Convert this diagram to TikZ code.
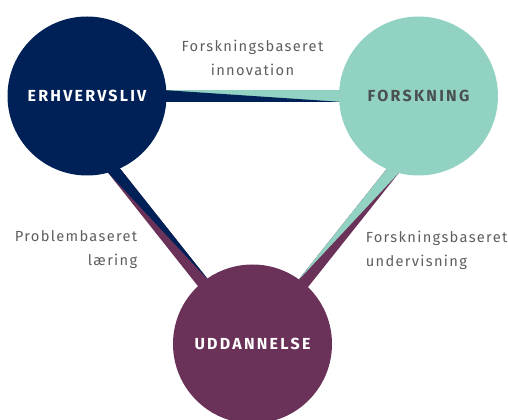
\documentclass[tikz,border=0pt]{standalone}
\usepackage{fontspec}
\usetikzlibrary{calc,backgrounds}
\newfontfamily\fedfont[LetterSpace=14]{Fira Sans}
\newfontfamily\tekstfont[LetterSpace=9]{Fira Sans}
\definecolor{navy}{HTML}{002157}
\definecolor{mint}{HTML}{91D2C3}
\definecolor{lilla}{HTML}{6B3259}
\definecolor{moerkgraa}{HTML}{4A4F4F}
\definecolor{graa}{HTML}{5F5F5F}
\tikzset{
	kreds/.style={circle,inner sep=0pt,minimum size=119.25pt,font=\fedfont\bfseries\fontsize{12}{14}\selectfont},
	etiket/.style={inner sep=0pt,text=graa,font=\tekstfont\fontsize{11}{18}\selectfont}
}
\def\bw{4.5pt}
\begin{document}
\begin{tikzpicture}[x=0.75pt,y=-0.75pt]
	\useasboundingbox (0,0) rectangle (508,420);
	\node[kreds,fill=navy,text=white] (erhverv) at (87,96) {ERHVERVSLIV};
	\node[kreds,fill=mint,text=moerkgraa] (forsk) at (418.5,96) {FORSKNING};
	\node[kreds,fill=lilla,text=white] (udd) at (252.5,344) {UDDANNELSE};
	\begin{pgfonlayer}{background}
		% Erhvervsliv -- Forskning
		\coordinate (o1) at ($(erhverv.center)!.95!(erhverv.0)$);
		\coordinate (o2) at ($(forsk.center)!.95!(forsk.180)$);
		\fill[mint] ($(o1)!\bw!90:(o2)$) -- ($(o1)!\bw!-90:(o2)$) -- ($(o2)!\bw!90:(o1)$) -- ($(o2)!\bw!-90:(o1)$) -- cycle;
		\fill[navy] ($(o1)!\bw!90:(o2)$) -- ($(o1)!\bw!-90:(o2)$) -- ($(o2)!\bw!90:(o1)$) -- cycle;
		% Erhvervsliv -- Uddannelse
		\coordinate (v1) at ($(erhverv.center)!.95!(erhverv.-71.4)$);
		\coordinate (v2) at ($(udd.center)!.95!(udd.129.1)$);
		\fill[lilla] ($(v1)!\bw!90:(v2)$) -- ($(v1)!\bw!-90:(v2)$) -- ($(v2)!\bw!90:(v1)$) -- ($(v2)!\bw!-90:(v1)$) -- cycle;
		\fill[navy] ($(v1)!\bw!90:(v2)$) -- ($(v1)!\bw!-90:(v2)$) -- ($(v2)!\bw!-90:(v1)$) -- cycle;
		% Forskning -- Uddannelse
		\coordinate (h1) at ($(forsk.center)!.95!(forsk.-108.6)$);
		\coordinate (h2) at ($(udd.center)!.95!(udd.50.9)$);
		\fill[lilla] ($(h1)!\bw!90:(h2)$) -- ($(h1)!\bw!-90:(h2)$) -- ($(h2)!\bw!90:(h1)$) -- ($(h2)!\bw!-90:(h1)$) -- cycle;
		\fill[mint] ($(h1)!\bw!90:(h2)$) -- ($(h1)!\bw!-90:(h2)$) -- ($(h2)!\bw!90:(h1)$) -- cycle;
	\end{pgfonlayer}
	\node[etiket,anchor=north,align=center] (innov) at (252.5,39.5) {Forskningsbaseret\\innovation};
	\node[etiket,anchor=north east,align=right] (pbl) at (137.5,230.5) {Problembaseret\\læring};
	\node[etiket,anchor=north west,align=left] (underv) at (365.5,230.5) {Forskningsbaseret\\undervisning};
\end{tikzpicture}
\end{document}
